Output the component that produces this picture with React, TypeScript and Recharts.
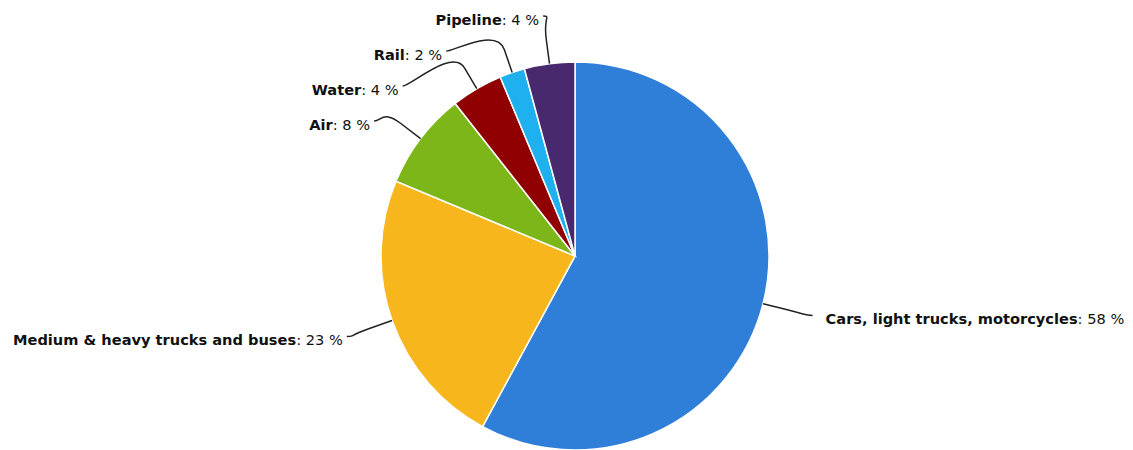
import { PieChart, Pie, Cell } from "recharts";

const categories = [
  "Cars, light trucks, motorcycles",
  "Medium & heavy trucks and buses",
  "Air",
  "Water",
  "Rail",
  "Pipeline",
];
const shares = [57.9, 23.4, 8.1, 4.3, 2.1, 4.2];
const shareLabels = ["58 %", "23 %", "8 %", "4 %", "2 %", "4 %"];
const colors = ["#2f7fd9", "#f6b61c", "#7cb619", "#900000", "#1fb0f0", "#48296e"];

const CX = 575;
const CY = 256;
const R = 194;
const LABEL_R = 242;
const GAP = 35;
const RAD = Math.PI / 180;

const data = categories.map((name, i) => ({ name, value: shares[i], label: shareLabels[i] }));

// work out label y spots like highcharts does: ideal spot on a ring, then push down to avoid overlap
function layoutLabels() {
  const total = shares.reduce((a, b) => a + b, 0);
  let start = 90;
  const items = shares.map((v, i) => {
    const sweep = (v / total) * 360;
    const mid = start - sweep / 2;
    start -= sweep;
    return { i, left: Math.cos(mid * RAD) < 0, y: CY - LABEL_R * Math.sin(mid * RAD), x: 0 };
  });
  [true, false].forEach((side) => {
    const group = items.filter((it) => it.left === side).sort((a, b) => a.y - b.y);
    let prev = -Infinity;
    group.forEach((it) => {
      it.y = Math.max(it.y, prev + GAP);
      prev = it.y;
    });
  });
  items.forEach((it) => {
    const dy = Math.min(Math.abs(it.y - CY), LABEL_R);
    const dx = Math.sqrt(LABEL_R * LABEL_R - dy * dy);
    it.x = it.left ? CX - dx : CX + dx;
  });
  return items;
}

const labelPos = layoutLabels();

const renderLabel = (props: any) => {
  const { cx, cy, midAngle, outerRadius, index } = props;
  const pos = labelPos[index];
  const cos = Math.cos(-midAngle * RAD);
  const sin = Math.sin(-midAngle * RAD);
  const ex = cx + outerRadius * cos;
  const ey = cy + outerRadius * sin;
  const mx = cx + (outerRadius + 24) * cos;
  const my = cy + (outerRadius + 24) * sin;
  const sx = pos.left ? pos.x : pos.x + 3;
  const tx = pos.left ? pos.x - 4 : pos.x + 16;
  const d = `M ${sx} ${pos.y} C ${sx + (pos.left ? 8 : -8)} ${pos.y} ${2 * mx - ex} ${2 * my - ey} ${mx} ${my} L ${ex} ${ey}`;
  return (
    <g key={`lbl-${index}`}>
      <path d={d} stroke="#222" strokeWidth={1.5} fill="none" />
      <text
        x={tx}
        y={pos.y + 2.5}
        textAnchor={pos.left ? "end" : "start"}
        dominantBaseline="central"
        fontFamily="'DejaVu Sans', sans-serif"
        fontSize={14.6}
        fill="#111"
      >
        <tspan fontWeight="bold">{data[index].name}</tspan>
        <tspan>: {data[index].label}</tspan>
      </text>
    </g>
  );
};

export default function App() {
  return (
    <div style={{ position: "absolute", left: 0, top: 0, background: "#fff" }}>
      <PieChart width={1133} height={450} margin={{ top: 0, right: 0, bottom: 0, left: 0 }}>
        <Pie
          data={data}
          dataKey="value"
          nameKey="name"
          cx={CX}
          cy={CY}
          outerRadius={R}
          startAngle={90}
          endAngle={-270}
          stroke="#fff"
          strokeWidth={1.5}
          label={renderLabel}
          labelLine={false}
          isAnimationActive={false}
        >
          {data.map((d, i) => (
            <Cell key={d.name} fill={colors[i]} />
          ))}
        </Pie>
      </PieChart>
    </div>
  );
}
